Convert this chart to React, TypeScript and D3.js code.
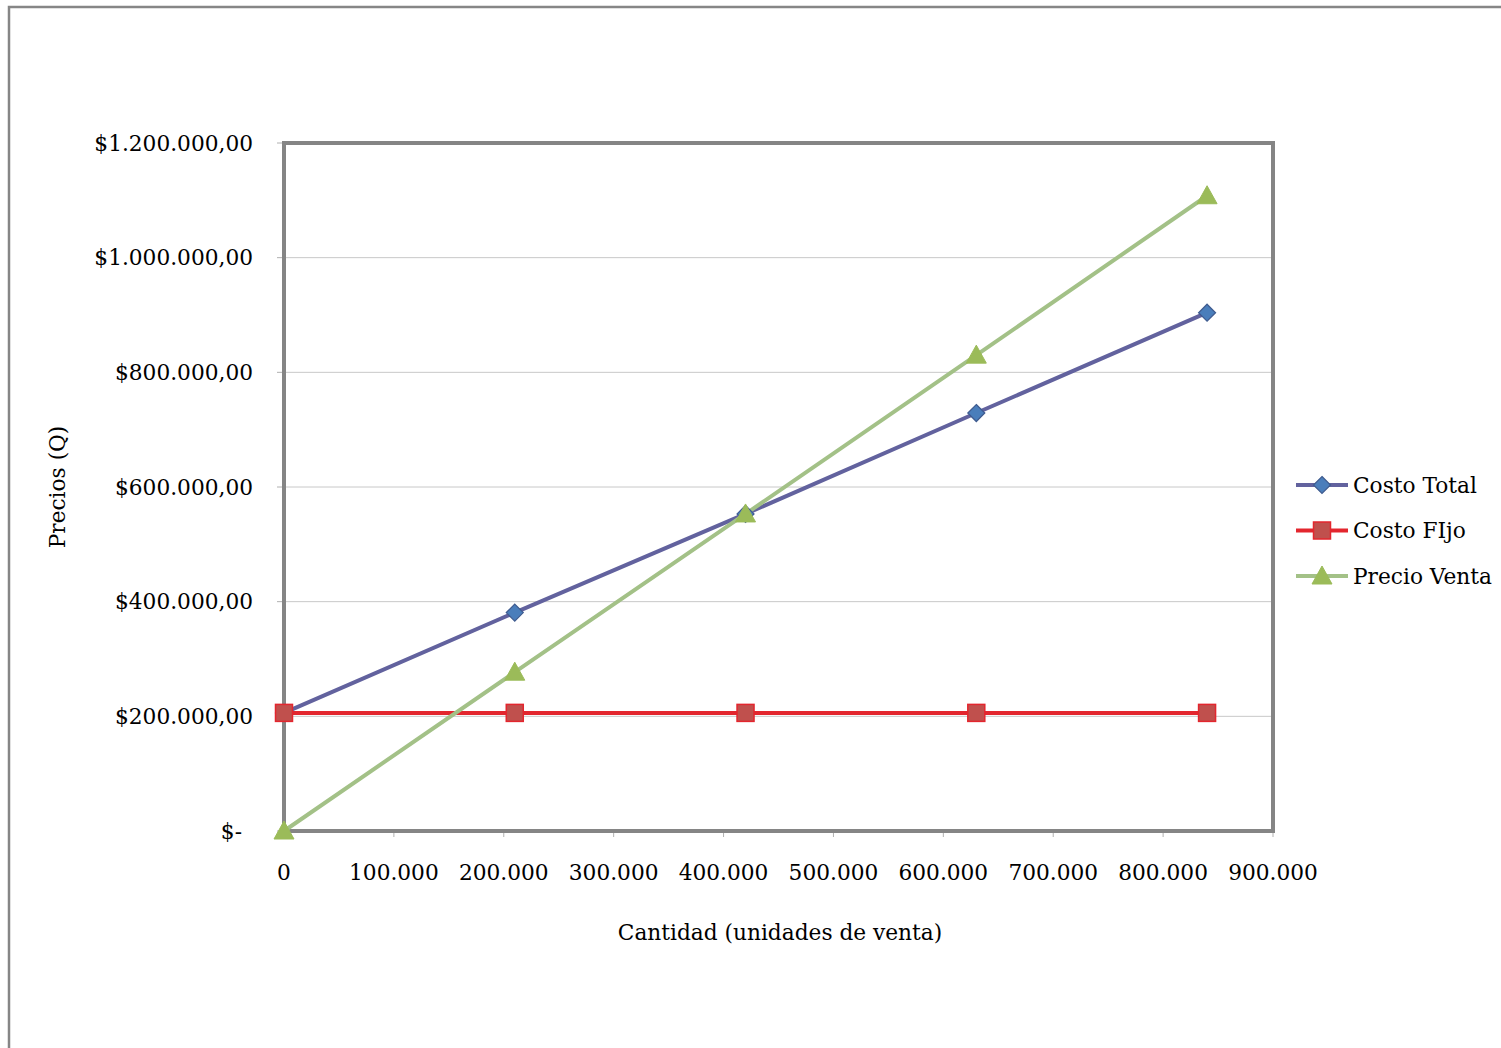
import React from "react";
import * as d3 from "d3";

const quantities = [0, 210000, 420000, 630000, 840000];
const costoTotal = [206000, 381000, 553000, 729000, 904000];
const costoFijo = [206000, 206000, 206000, 206000, 206000];
const precioVenta = [0, 277000, 553000, 830000, 1108000];
const yTicks = [0, 200000, 400000, 600000, 800000, 1000000, 1200000];
const yTickLabels = ["$-", "$200.000,00", "$400.000,00", "$600.000,00", "$800.000,00", "$1.000.000,00", "$1.200.000,00"];
const xTicks = [0, 100000, 200000, 300000, 400000, 500000, 600000, 700000, 800000, 900000];
const xTickLabels = ["0", "100.000", "200.000", "300.000", "400.000", "500.000", "600.000", "700.000", "800.000", "900.000"];
const seriesNames = ["Costo Total", "Costo FIjo", "Precio Venta"];

const FONT = "'DejaVu Serif', 'Liberation Serif', serif";
const FS = 21.7;

const series = [
  { name: seriesNames[0], values: costoTotal, line: "#62629E", fill: "#4A7EBB", stroke: "#3F5B8F", marker: "diamond" },
  { name: seriesNames[1], values: costoFijo, line: "#E3262E", fill: "#C0504D", stroke: "#E3262E", marker: "square" },
  { name: seriesNames[2], values: precioVenta, line: "#A3C187", fill: "#9BBB59", stroke: "#9BBB59", marker: "triangle" },
];

function Marker({ type, x, y, fill, stroke }: any) {
  if (type === "diamond") {
    const r = 8.5;
    return <path d={`M${x},${y - r}L${x + r},${y}L${x},${y + r}L${x - r},${y}Z`} fill={fill} stroke={stroke} strokeWidth={1.2} />;
  }
  if (type === "square") {
    const r = 8.5;
    return <rect x={x - r} y={y - r} width={2 * r} height={2 * r} fill={fill} stroke={stroke} strokeWidth={1.5} />;
  }
  const r = 10;
  return <path d={`M${x},${y - r}L${x + r},${y + 8}L${x - r},${y + 8}Z`} fill={fill} stroke={stroke} strokeWidth={1} />;
}

export default function App() {
  const left = 284, right = 1273, top = 143, bottom = 831;
  const x = d3.scaleLinear().domain([0, 900000]).range([left, right]);
  const y = d3.scaleLinear().domain([0, 1200000]).range([bottom, top]);
  const line = d3.line<number>().x((_, i) => x(quantities[i])).y((d) => y(d));

  return (
    <svg width={1501} height={1048} style={{ position: "absolute", left: 0, top: 0 }} fontFamily={FONT}>
      <rect x={0} y={0} width={1501} height={1048} fill="#fff" />
      <path d="M9,1048V7H1501" fill="none" stroke="#868686" strokeWidth={2.5} />
      {yTicks.slice(1, -1).map((t) => (
        <line key={t} x1={left} x2={right} y1={y(t)} y2={y(t)} stroke="#C8C8C8" strokeWidth={1} />
      ))}
      {xTicks.map((t) => (
        <line key={t} x1={x(t)} x2={x(t)} y1={bottom} y2={bottom + 6} stroke="#B0B0B0" strokeWidth={1} />
      ))}
      {yTicks.map((t) => (
        <line key={t} x1={left - 7} x2={left} y1={y(t)} y2={y(t)} stroke="#B0B0B0" strokeWidth={1} />
      ))}
      <rect x={left} y={top} width={right - left} height={bottom - top} fill="none" stroke="#858585" strokeWidth={4} />
      {series.map((s) => (
        <path key={s.name} d={line(s.values) || ""} fill="none" stroke={s.line} strokeWidth={4} strokeLinejoin="round" />
      ))}
      {series.map((s) =>
        s.values.map((v, i) => (
          <Marker key={s.name + i} type={s.marker} x={x(quantities[i])} y={y(v)} fill={s.fill} stroke={s.stroke} />
        ))
      )}
      {yTicks.map((t, i) => (
        <text key={t} x={t === 0 ? 242 : 253} y={y(t)} dy="0.35em" textAnchor="end" fontSize={FS} fill="#000">
          {yTickLabels[i]}
        </text>
      ))}
      {xTicks.map((t, i) => (
        <text key={t} x={x(t)} y={880} textAnchor="middle" fontSize={FS} fill="#000">
          {xTickLabels[i]}
        </text>
      ))}
      <text x={780} y={940} textAnchor="middle" fontSize={FS}>Cantidad (unidades de venta)</text>
      <text transform="translate(65,487) rotate(-90)" textAnchor="middle" fontSize={FS}>Precios (Q)</text>
      {series.map((s, i) => {
        const ly = 485 + i * 45.5;
        return (
          <g key={s.name}>
            <line x1={1296} x2={1348} y1={ly} y2={ly} stroke={s.line} strokeWidth={4} />
            <Marker type={s.marker} x={1322} y={ly} fill={s.fill} stroke={s.stroke} />
            <text x={1353} y={ly} dy="0.35em" fontSize={FS}>{s.name}</text>
          </g>
        );
      })}
    </svg>
  );
}
